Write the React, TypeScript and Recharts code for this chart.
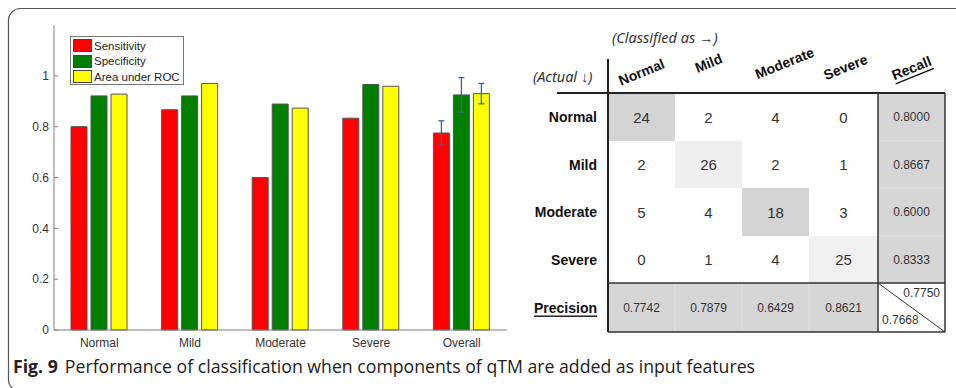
import React from 'react';
import { BarChart, Bar, XAxis, YAxis, ErrorBar, Legend } from 'recharts';

// ---- bar chart data ----
const categories = ['Normal', 'Mild', 'Moderate', 'Severe', 'Overall'];
const seriesNames = ['Sensitivity', 'Specificity', 'Area under ROC'];
const sensitivity = [0.8, 0.8667, 0.6, 0.8333, 0.775];
const specificity = [0.921, 0.921, 0.889, 0.966, 0.925];
const areaUnderRoc = [0.928, 0.97, 0.873, 0.959, 0.93];
const sensitivityErr = [0, 0, 0, 0, 0.048];
const specificityErr = [0, 0, 0, 0, 0.068];
const areaUnderRocErr = [0, 0, 0, 0, 0.04];
const yTicks = [0, 0.2, 0.4, 0.6, 0.8, 1];

// ---- confusion matrix data ----
const classLabels = ['Normal', 'Mild', 'Moderate', 'Severe'];
const confusion = [
  [24, 2, 4, 0],
  [2, 26, 2, 1],
  [5, 4, 18, 3],
  [0, 1, 4, 25],
];
const recall = ['0.8000', '0.8667', '0.6000', '0.8333'];
const precision = ['0.7742', '0.7879', '0.6429', '0.8621'];
const overallRecall = '0.7750';
const overallPrecision = '0.7668';

const chartData = categories.map((name, i) => ({
  name,
  sensitivity: sensitivity[i],
  specificity: specificity[i],
  auc: areaUnderRoc[i],
  sensErr: sensitivityErr[i],
  specErr: specificityErr[i],
  aucErr: areaUnderRocErr[i],
}));

const AXIS_FONT = 'Arial, "Liberation Sans", sans-serif';
const AXIS_COLOR = '#7f7f7f';
const BAR_STROKE = '#555';
const ERR_COLOR = '#41608f';

// table geometry
const colEdges = [608, 675, 742, 809, 878, 945];
const rowEdges = [93, 141, 188, 236, 283, 332];
const diagFill = ['#d4d4d4', '#efefef', '#d4d4d4', '#f0f0f0'];
const headerOffsets = [
  { dx: 0, dy: 5 },
  { dx: 0, dy: -4 },
  { dx: 9, dy: -4 },
  { dx: 2, dy: 0 },
  { dx: 0, dy: 1 },
];

const renderLegend = (props: any) => {
  const items = [...((props.payload || []) as any[])].sort(
    (a, b) => seriesNames.indexOf(a.value) - seriesNames.indexOf(b.value)
  );
  return (
    <div
      style={{
        width: 114,
        height: 49,
        boxSizing: 'border-box',
        border: '1px solid #777',
        background: '#fff',
        padding: '1px 0 0 2px',
        fontFamily: AXIS_FONT,
        fontSize: 11.5,
        color: '#222',
        whiteSpace: 'nowrap',
      }}
    >
      {items.map((it) => (
        <div key={it.value} style={{ display: 'flex', alignItems: 'center', height: 15.5 }}>
          <span
            style={{
              display: 'inline-block',
              flex: '0 0 auto',
              width: 17,
              height: 11,
              background: it.color,
              border: '1px solid #444',
              marginRight: 2,
            }}
          />
          <span style={{ lineHeight: '12px' }}>{it.value}</span>
        </div>
      ))}
    </div>
  );
};

function ConfusionTable() {
  const cx = (c: number) => (colEdges[c] + colEdges[c + 1]) / 2;
  const cy = (r: number) => (rowEdges[r] + rowEdges[r + 1]) / 2;
  const headers = [...classLabels, 'Recall'];
  return (
    <g fontFamily={AXIS_FONT}>
      {/* recall column and precision row shading */}
      <rect x={colEdges[4]} y={rowEdges[0]} width={colEdges[5] - colEdges[4]} height={rowEdges[4] - rowEdges[0]} fill="#d6d6d6" />
      <rect x={colEdges[0]} y={rowEdges[4]} width={colEdges[4] - colEdges[0]} height={rowEdges[5] - rowEdges[4]} fill="#d6d6d6" />
      {[1, 2, 3].map((r) => (
        <line key={'rs' + r} x1={colEdges[4]} x2={colEdges[5]} y1={rowEdges[r]} y2={rowEdges[r]} stroke="#e2e2e2" />
      ))}
      {[1, 2, 3].map((c) => (
        <line key={'cs' + c} x1={colEdges[c]} x2={colEdges[c]} y1={rowEdges[4]} y2={rowEdges[5]} stroke="#e2e2e2" />
      ))}
      {/* diagonal cells */}
      {classLabels.map((_, i) => (
        <rect key={'d' + i} x={colEdges[i]} y={rowEdges[i]} width={colEdges[i + 1] - colEdges[i]} height={rowEdges[i + 1] - rowEdges[i]} fill={diagFill[i]} />
      ))}
      {/* counts */}
      {confusion.map((row, r) =>
        row.map((v, c) => (
          <text key={`v${r}-${c}`} x={cx(c)} y={cy(r)} textAnchor="middle" dominantBaseline="central" fontSize={15} fill="#333">
            {v}
          </text>
        ))
      )}
      {recall.map((v, r) => (
        <text key={'rc' + r} x={cx(4)} y={cy(r)} textAnchor="middle" dominantBaseline="central" fontSize={12} fill="#333">
          {v}
        </text>
      ))}
      {precision.map((v, c) => (
        <text key={'pr' + c} x={cx(c)} y={cy(4)} textAnchor="middle" dominantBaseline="central" fontSize={12} fill="#333">
          {v}
        </text>
      ))}
      {/* overall corner */}
      <line x1={colEdges[4]} y1={rowEdges[4]} x2={colEdges[5]} y2={rowEdges[5]} stroke="#333" strokeWidth={1} />
      <text x={colEdges[5] - 5} y={rowEdges[4] + 14} textAnchor="end" fontSize={12} fill="#333">{overallRecall}</text>
      <text x={colEdges[4] + 4} y={rowEdges[5] - 8} textAnchor="start" fontSize={12} fill="#333">{overallPrecision}</text>
      {/* row labels */}
      {[...classLabels, 'Precision'].map((lab, r) => (
        <text
          key={'rl' + r}
          x={597}
          y={cy(r)}
          textAnchor="end"
          dominantBaseline="central"
          fontSize={14}
          fontWeight="bold"
          fill="#111"
          textDecoration={r === 4 ? 'underline' : undefined}
        >
          {lab}
        </text>
      ))}
      {/* column headers */}
      {headers.map((lab, c) => {
        const x = cx(c) + headerOffsets[c].dx;
        const y = 67 + headerOffsets[c].dy;
        return (
          <text
            key={'hl' + c}
            x={x}
            y={y}
            transform={`rotate(-22 ${x} ${y})`}
            textAnchor="middle"
            dominantBaseline="central"
            fontSize={14}
            fontWeight="bold"
            fill="#111"
            textDecoration={c === 4 ? 'underline' : undefined}
          >
            {lab}
          </text>
        );
      })}
      <text x={612} y={37} fontFamily='"Noto Sans", sans-serif' fontStyle="italic" fontSize={14.5} fill="#333" dominantBaseline="central">
        (Classified as →)
      </text>
      <text x={533} y={76} fontFamily='"Noto Sans", sans-serif' fontStyle="italic" fontSize={14.5} fill="#333" dominantBaseline="central">
        (Actual ↓)
      </text>
      {/* rules */}
      <line x1={608} x2={608} y1={59} y2={rowEdges[5]} stroke="#222" strokeWidth={2} />
      <line x1={557} x2={colEdges[5]} y1={rowEdges[0]} y2={rowEdges[0]} stroke="#222" strokeWidth={2} />
      <line x1={colEdges[4]} x2={colEdges[4]} y1={rowEdges[0]} y2={rowEdges[5]} stroke="#333" strokeWidth={1.5} />
      <line x1={colEdges[5]} x2={colEdges[5]} y1={rowEdges[0]} y2={rowEdges[5]} stroke="#333" strokeWidth={1.5} />
      <line x1={colEdges[0]} x2={colEdges[5]} y1={rowEdges[4]} y2={rowEdges[4]} stroke="#333" strokeWidth={1.5} />
      <line x1={colEdges[0]} x2={colEdges[5]} y1={rowEdges[5]} y2={rowEdges[5]} stroke="#333" strokeWidth={1.5} />
    </g>
  );
}

export default function App() {
  return (
    <div style={{ position: 'absolute', left: 0, top: 0, width: 956, height: 388, overflow: 'hidden', background: '#fff' }}>
      <svg width={956} height={388} style={{ position: 'absolute', left: 0, top: 0 }}>
        <rect x={8.5} y={8.5} width={1000} height={383} rx={12} ry={12} fill="none" stroke="#555" strokeWidth={1.2} />
        <ConfusionTable />
        <text x={13} y={373} fontFamily='"Open Sans", sans-serif' fontSize={17.7} fill="#222">
          <tspan fontWeight="bold">Fig. 9</tspan>
          <tspan dx={7}>Performance of classification when components of qTM are added as input features</tspan>
        </text>
      </svg>
      <div style={{ position: 'absolute', left: 0, top: 0 }}>
        <BarChart
          width={520}
          height={360}
          data={chartData}
          margin={{ top: 25, right: 13, left: 0, bottom: 10 }}
          barGap={4}
        >
          <XAxis
            dataKey="name"
            tickLine={false}
            tickSize={0}
            tickMargin={8}
            height={20}
            stroke={AXIS_COLOR}
            tick={{ fill: '#333', fontSize: 12, fontFamily: AXIS_FONT }}
          />
          <XAxis xAxisId="top" orientation="top" dataKey="name" height={0} tick={false} tickSize={-4} stroke={AXIS_COLOR} />
          <YAxis
            domain={[0, 1.2]}
            ticks={yTicks}
            interval={0}
            width={54}
            tickSize={-4}
            tickMargin={9}
            stroke={AXIS_COLOR}
            tick={{ fill: '#333', fontSize: 12, fontFamily: AXIS_FONT }}
          />
          <YAxis yAxisId="right" orientation="right" domain={[0, 1.2]} ticks={yTicks} width={0} tick={false} tickSize={-4} stroke={AXIS_COLOR} />
          <Legend
            layout="vertical"
            verticalAlign="middle"
            align="center"
            content={renderLegend}
            wrapperStyle={{ left: 70, top: 36, width: 114, height: 49 }}
          />
          <Bar dataKey="sensitivity" name="Sensitivity" fill="#ff0000" stroke={BAR_STROKE} strokeWidth={1} barSize={16} isAnimationActive={false}>
            <ErrorBar dataKey="sensErr" width={3} stroke={ERR_COLOR} strokeWidth={1.3} direction="y" />
          </Bar>
          <Bar dataKey="specificity" name="Specificity" fill="#007f00" stroke={BAR_STROKE} strokeWidth={1} barSize={16} isAnimationActive={false}>
            <ErrorBar dataKey="specErr" width={3} stroke={ERR_COLOR} strokeWidth={1.3} direction="y" />
          </Bar>
          <Bar dataKey="auc" name="Area under ROC" fill="#ffff00" stroke={BAR_STROKE} strokeWidth={1} barSize={16} isAnimationActive={false}>
            <ErrorBar dataKey="aucErr" width={3} stroke={ERR_COLOR} strokeWidth={1.3} direction="y" />
          </Bar>
        </BarChart>
      </div>
    </div>
  );
}
